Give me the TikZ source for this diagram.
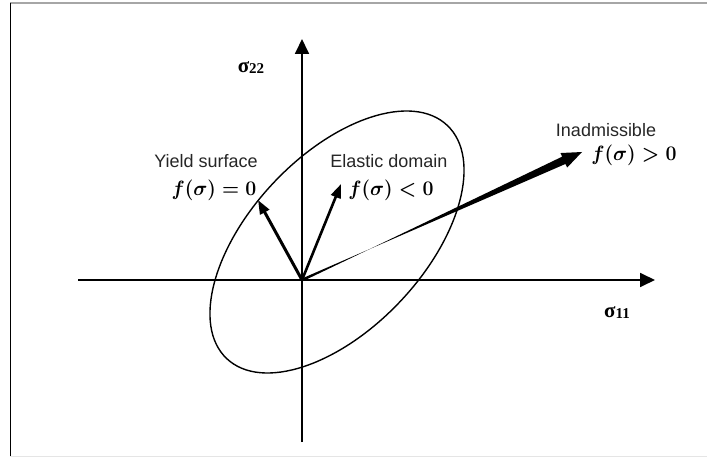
\documentclass[tikz,border=0pt]{standalone}
\usepackage{fontspec}
\usepackage{graphicx}
\setmainfont{Liberation Sans}
\newfontfamily\serifgr{Liberation Serif}
\usetikzlibrary{arrows.meta,calc}
\newcommand{\mymath}[1]{\scalebox{0.94}[1]{#1}}
\begin{document}
\begin{tikzpicture}[x=1pt,y=-1pt,
  axis/.style={line width=1.8pt,-{Triangle[length=15pt,width=14pt]}},
  vec/.style={line width=3pt,-{Triangle[length=14pt,width=10pt]}},
  lbl/.style={font=\fontsize{18}{20}\selectfont, text=black!85, inner sep=0pt, anchor=base},
  mth/.style={font=\fontsize{20}{22}\selectfont\boldmath, inner sep=0pt, anchor=base},
  sig/.style={font=\serifgr\bfseries\fontsize{21}{23}\selectfont, inner sep=0pt, anchor=base}]
\useasboundingbox (0,0) rectangle (707,457);
\fill[white] (0,0) rectangle (707,457);
% frame
\draw[gray!70, line width=1.2pt] (10,3) -- (707,3);
\draw[black, line width=1pt] (10,3) -- (10,456);
\draw[gray!20, line width=1pt] (10,456) -- (707,456);
% axes
\coordinate (O) at (302,280);
\coordinate (xs) at (78,280);
\coordinate (xe) at (655,280);
\coordinate (vs) at (302,442);
\coordinate (ve) at (302,39);
\draw[axis] (xs) -- (xe);
\draw[axis] (vs) -- (ve);
% ellipse
\draw[line width=1.4pt, rotate around={46.6:(337,242)}] (337,242) ellipse [x radius=160.5pt, y radius=86.8pt];
% vectors
\coordinate (Y) at (258,200);
\coordinate (E) at (341,184);
\coordinate (I) at (582,152);
\draw[vec] (O) -- (Y);
\draw[vec, line width=2.6pt] (O) -- (E);
\coordinate (H) at ($(I)!20pt!(O)$);
\fill ($(O)!1.4pt!90:(I)$) -- ($(H)!4pt!90:(O)$) -- ($(H)!8pt!90:(O)$) -- (I)
  -- ($(H)!8pt!-90:(O)$) -- ($(H)!4pt!-90:(O)$) -- ($(O)!1.4pt!-90:(I)$) -- cycle;
% labels
\node[lbl] (yl) at (206,168) {Yield surface};
\node[lbl] (el) at (389,168) {Elastic domain};
\node[lbl] (il) at (606,137) {Inadmissible};
\node[mth] (ym) at (214,196) {\mymath{$f(\sigma)=0$}};
\node[mth] (em) at (391,196) {\mymath{$f(\sigma)<0$}};
\node[mth] (im) at (634,161) {\mymath{$f(\sigma)>0$}};
\node[sig] (s22) at (251,73) {σ\raisebox{-1pt}{\fontsize{15}{17}\selectfont 22}};
\node[sig] (s11) at (617,317) {σ\raisebox{-1pt}{\fontsize{15}{17}\selectfont 11}};
\end{tikzpicture}
\end{document}
